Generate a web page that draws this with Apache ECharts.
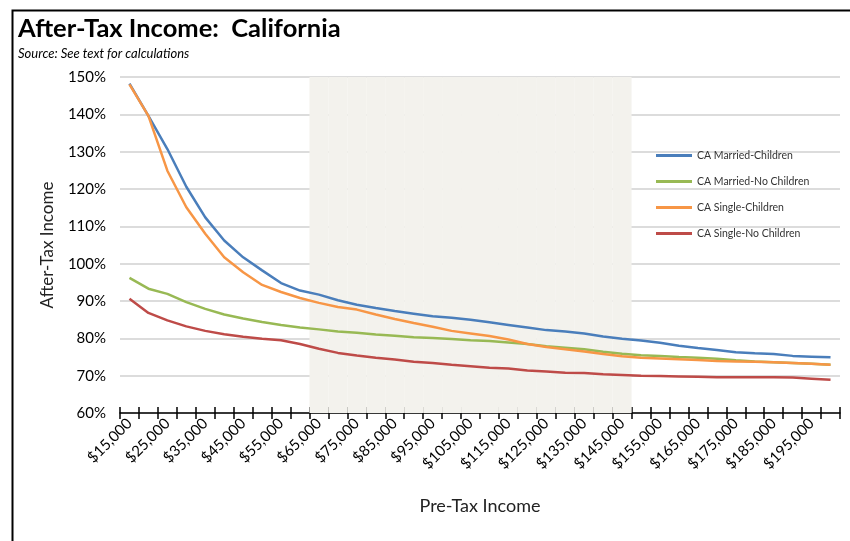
<!DOCTYPE html>
<html>
<head>
<meta charset="utf-8">
<script src="https://cdn.jsdelivr.net/npm/echarts@6/dist/echarts.min.js"></script>
<style>
  html, body { margin: 0; padding: 0; background: #fff; }
  #chart { width: 850px; height: 541px; }
</style>
</head>
<body>
<div id="chart"></div>
<script>
// Pre-tax income levels (category axis)
const incomes = [
  15000, 20000, 25000, 30000, 35000, 40000, 45000, 50000, 55000, 60000,
  65000, 70000, 75000, 80000, 85000, 90000, 95000, 100000, 105000, 110000,
  115000, 120000, 125000, 130000, 135000, 140000, 145000, 150000, 155000, 160000,
  165000, 170000, 175000, 180000, 185000, 190000, 195000, 200000
];

// After-tax income as % of pre-tax income
const marriedChildren = [
  148.2, 139.6, 130.7, 120.6, 112.4, 106.2, 101.7, 98.2, 94.8, 92.8,
  91.7, 90.2, 89.0, 88.1, 87.3, 86.6, 85.9, 85.5, 85.0, 84.3,
  83.6, 82.9, 82.2, 81.8, 81.3, 80.5, 79.9, 79.4, 78.8, 78.0,
  77.4, 76.9, 76.3, 76.0, 75.8, 75.3, 75.1, 74.9
];
const marriedNoChildren = [
  96.2, 93.3, 91.9, 89.7, 87.9, 86.4, 85.3, 84.4, 83.6, 82.9,
  82.4, 81.8, 81.5, 81.0, 80.7, 80.3, 80.1, 79.8, 79.5, 79.3,
  78.9, 78.5, 77.9, 77.5, 77.1, 76.4, 75.9, 75.5, 75.3, 75.0,
  74.8, 74.5, 74.1, 73.8, 73.6, 73.4, 73.2, 72.9
];
const singleChildren = [
  148.0, 139.6, 124.9, 115.1, 108.0, 101.7, 97.7, 94.3, 92.4, 90.8,
  89.5, 88.4, 87.7, 86.4, 85.2, 84.1, 83.1, 82.0, 81.3, 80.6,
  79.7, 78.5, 77.7, 77.1, 76.5, 75.8, 75.2, 74.8, 74.6, 74.4,
  74.2, 73.9, 73.8, 73.7, 73.6, 73.4, 73.2, 72.9
];
const singleNoChildren = [
  90.6, 86.8, 84.8, 83.2, 82.0, 81.1, 80.4, 79.9, 79.5, 78.5,
  77.2, 76.1, 75.4, 74.8, 74.3, 73.7, 73.4, 72.9, 72.5, 72.1,
  71.9, 71.4, 71.1, 70.8, 70.7, 70.4, 70.2, 70.0, 69.9, 69.8,
  69.7, 69.6, 69.6, 69.6, 69.6, 69.5, 69.2, 68.9
];

// Middle-income band shaded behind the lines ($65,000 – $145,000)
const bandStart = 65000;
const bandEnd = 145000;

const FONT = 'Lato, "Open Sans", sans-serif';
const categories = incomes.map(v => '$' + v.toLocaleString('en-US'));
const band = incomes.map(v => (v >= bandStart && v <= bandEnd) ? 1 : null);

const lineSeries = (name, data, color) => ({
  name, type: 'line', data,
  xAxisIndex: 0, yAxisIndex: 0,
  showSymbol: false, symbol: 'none', smooth: false,
  lineStyle: { color, width: 2.5 },
  itemStyle: { color },
  z: 3
});

const chart = echarts.init(document.getElementById('chart'), null, { renderer: 'canvas' });
chart.setOption({
  animation: false,
  backgroundColor: '#fff',
  textStyle: { fontFamily: FONT },
  title: {
    text: 'After-Tax Income:  California',
    subtext: 'Source: See text for calculations',
    left: 13, top: 11, itemGap: 5,
    textStyle: { fontFamily: FONT, fontWeight: 'bold', fontSize: 25.5, color: '#000' },
    subtextStyle: { fontFamily: FONT, fontStyle: 'italic', fontSize: 13, color: '#000' }
  },
  graphic: [{
    type: 'rect', left: 10, top: 8, silent: true, z: -10,
    shape: { width: 900, height: 600 },
    style: { fill: null, stroke: '#000', lineWidth: 2 }
  }],
  legend: {
    orient: 'vertical', left: 651, top: 145, itemGap: 15,
    icon: 'rect', itemWidth: 36, itemHeight: 3,
    textStyle: { fontFamily: FONT, fontSize: 10.5, color: '#333' },
    data: ['CA Married-Children', 'CA Married-No Children', 'CA Single-Children', 'CA Single-No Children']
  },
  grid: { left: 120, right: 10, top: 77, bottom: 128, containLabel: false },
  xAxis: [{
    type: 'category', data: categories, position: 'bottom', boundaryGap: true,
    name: 'Pre-Tax Income', nameLocation: 'middle', nameGap: 84,
    nameTextStyle: { fontFamily: FONT, fontSize: 18, color: '#222' },
    axisLine: { show: true, lineStyle: { color: '#000', width: 1.5 } },
    axisTick: { show: true, interval: 0, length: 6, lineStyle: { color: '#000', width: 1.5 } },
    axisLabel: { interval: 1, rotate: 45, margin: 8, fontFamily: FONT, fontSize: 15, color: '#000' },
    splitLine: { show: false }
  }, {
    // upper half of the cross-style tick marks
    type: 'category', data: categories, position: 'bottom', boundaryGap: true,
    axisLine: { show: false },
    axisTick: { show: true, inside: true, interval: 0, length: 6, lineStyle: { color: '#000', width: 1.5 } },
    axisLabel: { show: false },
    splitLine: { show: false }
  }],
  yAxis: [{
    type: 'value', min: 60, max: 150, interval: 10,
    name: 'After-Tax Income', nameLocation: 'middle', nameGap: 64,
    nameTextStyle: { fontFamily: FONT, fontSize: 17, color: '#222' },
    axisLine: { show: false }, axisTick: { show: false },
    axisLabel: { formatter: '{value}%', margin: 14, fontFamily: FONT, fontSize: 15, color: '#000' },
    splitLine: { show: true, lineStyle: { color: '#dcdcdc', width: 2 } }
  }, {
    type: 'value', min: 0, max: 1, show: false,
    splitLine: { show: false }
  }],
  series: [
    {
      name: 'band', type: 'bar', data: band, xAxisIndex: 0, yAxisIndex: 1,
      barCategoryGap: '0%', barGap: '0%', silent: true,
      itemStyle: { color: '#f3f2ed' }, z: 1
    },
    lineSeries('CA Married-Children', marriedChildren, '#4a7ebb'),
    lineSeries('CA Married-No Children', marriedNoChildren, '#98b954'),
    lineSeries('CA Single-Children', singleChildren, '#f79646'),
    lineSeries('CA Single-No Children', singleNoChildren, '#be4b48')
  ]
});
</script>
</body>
</html>
